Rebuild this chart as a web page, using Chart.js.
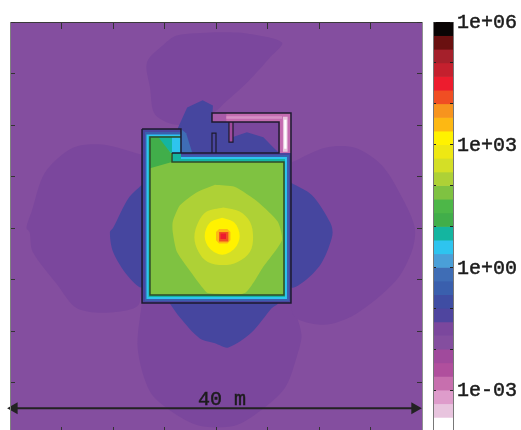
<!DOCTYPE html>
<html>
<head>
<meta charset="utf-8">
<title>Field map</title>
<script src="https://cdn.jsdelivr.net/npm/chart.js@4"></script>
<style>
  html, body { margin: 0; padding: 0; background: #fff; overflow: hidden; width: 521px; height: 430px; }
  canvas { position: absolute; top: 0; filter: blur(0.45px); }
  #fieldChart { left: 0; }
  #barChart { left: 425px; }
</style>
</head>
<body>
<canvas id="fieldChart" width="430" height="450"></canvas>
<canvas id="barChart" width="96" height="450"></canvas>
<script>
// colour scale, top band first, three bands per decade
const bandEdges = [1e6, 4.64e5, 2.15e5, 1e5, 4.64e4, 2.15e4, 1e4, 4.64e3, 2.15e3, 1e3, 464, 215, 100, 46.4, 21.5, 10,
  4.64, 2.15, 1, 0.464, 0.215, 0.1, 0.0464, 0.0215, 0.01, 0.00464, 0.00215, 0.001, 0.000464, 0.000215, 0.0001];
const bandColours = ['#0a0505', '#6a1010', '#a5202b', '#c4202e', '#ed1c2e', '#f04e23', '#f7941e', '#fdb813', '#fff200', '#eee813',
  '#d4df26', '#aed136', '#7fc241', '#4db748', '#41ae4a', '#14b5a0', '#2ec4ef', '#4a9fd8', '#3f6db5', '#3a5fad',
  '#3f4da3', '#4f459f', '#7b479d', '#844e9f', '#a04a9c', '#b04f9d', '#c76fae', '#de9ccb', '#e8c4de', '#ffffff'];
const decadeTicks = [1e6, 1e5, 1e4, 1e3, 100, 10, 1, 0.1, 0.01, 0.001, 0.0001];
const decadeLabels = { 1000000: '1e+06', 1000: '1e+03', 1: '1e+00', 0.001: '1e-03' };

// contours of the field, metres from the middle of the map
const domain = [[-20, 20], [20, 20], [20, -20], [-20, -20]];
const lobeTop = [[-0.1, 19.0], [2.8, 18.9], [6.4, 18.0], [5.2, 16.5], [3.1, 14.2], [0.9, 12.2], [-0.1, 11.3], [-3.5, 10.0], [-5.9, 11.0], [-6.4, 13.6], [-6.7, 16.1], [-5.1, 17.8], [-3.8, 18.7]];
const lobeLeft = [[-7.2, 7.1], [-11.0, 8.1], [-13.9, 7.8], [-16.6, 5.4], [-17.9, 1.6], [-18.4, 0], [-18.1, -0.4], [-17.8, -2.3], [-15.4, -5.5], [-13.5, -7.8], [-10.3, -8.2], [-7.4, -7.2]];
const lobeBottom = [[-7.2, -7.2], [-7.6, -11.7], [-6.4, -15.9], [-4.2, -17.9], [-1.6, -19.2], [1.8, -19.2], [4.1, -17.9], [6.7, -15.5], [7.9, -12.3], [8.3, -10.4], [7.7, -8.2], [7.2, -7.0]];
const lobeRight = [[7.4, 6.4], [10.6, 7.8], [13.5, 7.8], [16.1, 6.1], [18.1, 2.9], [19.3, 0], [19.0, -2.3], [17.4, -5.2], [13.5, -8.4], [10.3, -9.4], [7.4, -8.2]];
const blueLeft = [[-7.2, 4.2], [-8.5, 2.9], [-10.0, 0], [-10.3, -0.4], [-10.0, -2.3], [-8.6, -4.6], [-7.2, -5.7]];
const blueRight = [[7.3, 4.4], [9.3, 3.2], [11.1, 0.5], [11.3, -0.7], [10.3, -3.3], [8.9, -4.9], [7.3, -5.7]];
const blueBottom = [[-4.5, -7.3], [-3.5, -8.7], [-1.6, -10.7], [-0.1, -11.2], [1.2, -11.6], [3.5, -10.1], [5.4, -7.8], [6.0, -7.3]];
const blueTop = [[-3.7, 9.7], [-2.8, 11.7], [-1.3, 12.4], [-0.3, 11.9], [-0.39, 10.29], [1.26, 10.29], [1.65, 8.83], [3.0, 9.3], [4.6, 8.8], [5.5, 7.9], [6.12, 7.28], [-3.4, 7.28]];
const blueNearWall = [[-3.4, 9.61], [-2.9, 9.2], [-2.3, 7.28], [-3.4, 7.28]];
const annexRoom = [[-0.39, 10.29], [6.12, 10.29], [6.12, 7.28], [-0.39, 7.28]];

// shell of the building, outside to inside
const shell0 = [[-7.18, 9.61], [-3.4, 9.61], [-3.4, 7.28], [7.28, 7.28], [7.28, -7.28], [-7.18, -7.28]];
const shell1 = [[-6.89, 9.32], [-3.4, 9.32], [-3.4, 7.09], [7.09, 7.09], [7.09, -7.09], [-6.89, -7.09]];
const shell2 = [[-6.75, 9.08], [-3.4, 9.08], [-3.4, 6.89], [6.89, 6.89], [6.89, -6.89], [-6.75, -6.89]];
const shell3 = [[-6.55, 8.93], [-3.4, 8.93], [-3.4, 6.7], [6.7, 6.7], [6.7, -6.7], [-6.55, -6.7]];
const room = [[-6.41, 8.83], [-3.4, 8.83], [-3.4, 7.28], [-4.27, 7.28], [-4.27, 6.41], [6.6, 6.41], [6.6, -6.5], [-6.41, -6.5]];
const cornerGreen = [[-6.41, 8.83], [-5.4, 8.83], [-4.4, 7.28], [-4.27, 6.41], [-6.41, 5.8]];
const cornerTeal = [[-5.6, 8.83], [-4.27, 8.83], [-4.27, 7.28], [-4.4, 7.28]];
const cornerCyan = [[-4.27, 8.83], [-3.4, 8.83], [-3.4, 7.28], [-4.27, 7.28]];

// pink wall of the annex
const annexWall = [[-0.39, 11.17], [7.28, 11.17], [7.28, 7.28], [6.12, 7.28], [6.12, 10.29], [-0.39, 10.29]];
const annexWallLeft = [[-0.39, 11.17], [1.0, 11.17], [1.0, 10.29], [-0.39, 10.29]];
const annexPale = [[6.5, 10.8], [6.95, 10.8], [6.95, 7.4], [6.5, 7.4]];
const annexWhite = [[6.62, 10.5], [6.85, 10.5], [6.85, 7.7], [6.62, 7.7]];
const annexStreak = [[1.0, 10.85], [6.41, 10.85], [6.41, 10.6], [1.0, 10.6]];
const stubUpper = [[1.26, 10.29], [1.65, 10.29], [1.65, 8.34], [1.26, 8.34]];
const stubLower = [[-0.39, 9.22], [0, 9.22], [0, 7.28], [-0.39, 7.28]];

// rings round the source
const ringLime = [[-0.1, 4.2], [1.8, 4.0], [4.1, 2.5], [6.0, 0.6], [6.4, -1.2], [4.5, -3.9], [2.8, -6.3], [-0.8, -6.3], [-1.3, -5.8], [-2.2, -4.6], [-3.8, -2.3], [-4.2, -0.4], [-4.2, 0.6], [-3.5, 2.2], [-1.8, 3.5]];
const ringPale = [[0.7, 2.0], [2.3, 1.6], [3.3, 0.6], [3.6, -0.9], [3.3, -2.3], [2.1, -3.3], [0.7, -3.6], [-0.8, -3.3], [-1.7, -2.3], [-2.1, -0.9], [-1.7, 0.6], [-0.9, 1.6]];
const ringYellow = [[0.6, 1.0], [1.8, 0.5], [2.3, -0.8], [1.8, -2.0], [0.6, -2.6], [-0.6, -2.0], [-1.1, -0.8], [-0.6, 0.5]];
const ringAmber = [[0.3, -0.1], [1.1, -0.1], [1.4, -0.4], [1.4, -1.2], [1.1, -1.5], [0.3, -1.5], [0, -1.2], [0, -0.4]];
const ringOrange = [[0.3, -0.4], [1.2, -0.4], [1.2, -1.3], [0.3, -1.3]];
const ringRed = [[0.44, -0.53], [0.97, -0.53], [0.97, -1.07], [0.44, -1.07]];

// wall lines
const wallOuter = [[-7.18, 9.61], [-3.4, 9.61], [-3.4, 7.28], [-4.27, 7.28], [6.12, 7.28], [6.12, 10.29], [-0.39, 10.29], [-0.39, 11.17], [7.28, 11.17], [7.28, -7.28], [-7.18, -7.28], [-7.18, 9.61]];
const wallInner = [[-4.27, 7.28], [-4.27, 6.41], [6.6, 6.41], [6.6, -6.5], [-6.41, -6.5], [-6.41, 8.83], [-3.4, 8.83]];
const wallStubs = [[1.26, 10.29], [1.26, 8.34], [1.65, 8.34], [1.65, 10.29]];
const wallStubs2 = [[-0.39, 7.28], [-0.39, 9.22], [0, 9.22], [0, 7.28]];
const arrowEnds = [[-19.6, -17.5], [19.3, -17.5]];
const arrowLabel = '40 m';
const arrowLabelAt = [0.58, -17.2];

const tickFont = { family: '"Liberation Mono"', size: 20 };
const points = (poly) => poly.map(([x, y]) => ({ x, y }));

// painter's order, first one is the bottom
function region(poly, colour, curve) {
  return { data: points(poly.concat([poly[0]])), fill: 'shape', backgroundColor: colour, borderWidth: 0, pointRadius: 0, showLine: true, tension: curve || 0 };
}
function wall(line, colour, width) {
  return { data: points(line), fill: false, borderColor: colour, borderWidth: width, pointRadius: 0, showLine: true, tension: 0 };
}

const layers = [
  region(domain, bandColours[23]),
  region(lobeTop, bandColours[22], 0.3),
  region(lobeLeft, bandColours[22], 0.3),
  region(lobeBottom, bandColours[22], 0.3),
  region(lobeRight, bandColours[22], 0.3),
  region(annexRoom, bandColours[22]),
  region(blueLeft, '#46469f', 0.3),
  region(blueRight, '#46469f', 0.3),
  region(blueBottom, '#46469f', 0.3),
  region(blueTop, '#46469f'),
  region(blueNearWall, '#3f6db5'),
  region(shell0, '#4a45a0'),
  region(shell1, bandColours[19]),
  region(shell2, bandColours[16]),
  region(shell3, bandColours[15]),
  region(room, bandColours[12]),
  region(cornerGreen, bandColours[14]),
  region(cornerTeal, bandColours[15]),
  region(cornerCyan, bandColours[16]),
  region(annexWall, '#c46cb0'),
  region(annexWallLeft, '#a85aa8'),
  region(annexStreak, '#d690c5'),
  region(annexPale, bandColours[28]),
  region(annexWhite, bandColours[29]),
  region(stubUpper, '#a04a9c'),
  region(stubLower, '#4a45a0'),
  region(ringLime, bandColours[11], 0.2),
  region(ringPale, bandColours[10], 0.35),
  region(ringYellow, bandColours[8], 0.35),
  region(ringAmber, bandColours[7]),
  region(ringOrange, bandColours[5]),
  region(ringRed, bandColours[4]),
  wall(wallInner, '#2f4a2a', 1.5),
  wall(wallOuter, '#1c1a2e', 1.5),
  wall(wallStubs, '#1c1a2e', 1.2),
  wall(wallStubs2, '#1c1a2e', 1.2),
  {
    data: points(arrowEnds), fill: false, borderColor: '#222', borderWidth: 2, showLine: true, clip: false,
    pointStyle: 'triangle', pointRadius: 7, pointBackgroundColor: '#222', pointBorderWidth: 0, pointRotation: [-90, 90]
  }
];

function edgeAxis(position, tickColour, borderColour) {
  const horizontal = position === 'top' || position === 'bottom';
  return {
    type: 'linear', position, min: -20, max: 20,
    ticks: { display: false, stepSize: 5 },
    grid: { drawOnChartArea: false, tickLength: horizontal ? -7 : -5, tickColor: tickColour, z: 5 },
    border: { color: borderColour, width: 1, z: 5 },
    afterFit(scale) { if (horizontal) scale.height = 0; else scale.width = 0; }
  };
}

// label over the arrow, placed through the scales
const labelPlugin = {
  id: 'arrowText',
  afterDatasetsDraw(chart) {
    const { ctx, scales } = chart;
    const px = scales.x.getPixelForValue(arrowLabelAt[0]);
    const py = scales.y.getPixelForValue(arrowLabelAt[1]);
    ctx.save();
    ctx.font = '20px "Liberation Mono"';
    ctx.fillStyle = '#1c1c1c';
    ctx.strokeStyle = '#1c1c1c';
    ctx.lineWidth = 0.5;
    ctx.textAlign = 'center';
    ctx.textBaseline = 'alphabetic';
    ctx.fillText(arrowLabel, px, py);
    ctx.strokeText(arrowLabel, px, py);
    ctx.restore();
  }
};

new Chart(document.getElementById('fieldChart'), {
  type: 'scatter',
  data: { datasets: layers.slice().reverse() },
  options: {
    responsive: false,
    animation: false,
    layout: { padding: { left: 10, top: 22, right: 8, bottom: 16 } },
    plugins: { legend: { display: false }, tooltip: { enabled: false } },
    scales: {
      x: edgeAxis('bottom', '#333', '#444'),
      xTop: edgeAxis('top', '#333', '#3a3a3a'),
      y: edgeAxis('left', '#333', '#808080'),
      yRight: edgeAxis('right', '#333', '#909090')
    }
  },
  plugins: [labelPlugin]
});

// colour bar
const bandDatasets = bandColours.map((colour, i) => ({
  data: [[bandEdges[i + 1], bandEdges[i]]],
  backgroundColor: colour,
  borderWidth: 0,
  barPercentage: 1,
  categoryPercentage: 1,
  grouped: false
}));

function barAxis(position) {
  return {
    type: 'logarithmic', position, min: 1e-4, max: 1e6,
    afterBuildTicks(scale) { scale.ticks = decadeTicks.map((value) => ({ value })); },
    ticks: {
      display: position === 'right',
      autoSkip: false,
      padding: 7,
      labelOffset: 1,
      color: '#1c1c1c',
      textStrokeColor: '#1c1c1c',
      textStrokeWidth: 0.5,
      font: tickFont,
      callback: (value) => decadeLabels[value] || ''
    },
    grid: { drawOnChartArea: false, tickLength: -3, tickColor: '#222', z: 5 },
    border: { color: '#777', width: 1, z: 5 },
    afterFit(scale) { scale.width = position === 'right' ? 68 : 0; }
  };
}

new Chart(document.getElementById('barChart'), {
  type: 'bar',
  data: { labels: [''], datasets: bandDatasets },
  options: {
    responsive: false,
    animation: false,
    layout: { padding: { left: 8, top: 22, right: 0, bottom: 16 } },
    plugins: { legend: { display: false }, tooltip: { enabled: false } },
    scales: {
      x: { display: false },
      y: barAxis('right'),
      yLeft: barAxis('left')
    }
  }
});
</script>
</body>
</html>
